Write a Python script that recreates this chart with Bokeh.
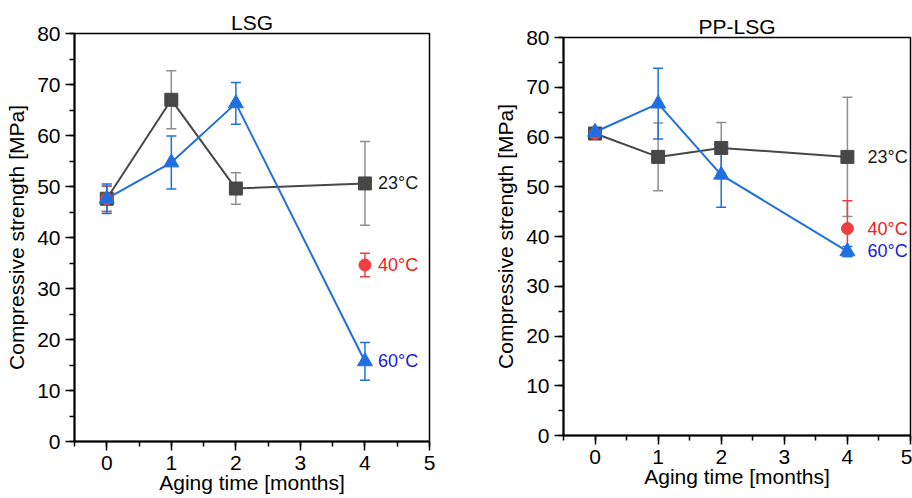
from bokeh.plotting import figure
from bokeh.models import ColumnDataSource, Whisker, TeeHead, Range1d, SingleIntervalTicker
from bokeh.layouts import row, column
from bokeh.embed import file_html
from bokeh.resources import INLINE
from bokeh.core.properties import value

# ---------------- data ----------------
months = [0, 1, 2, 4]
months_40 = [0, 4]

lsg_23 = [47.6, 67.0, 49.6, 50.6]
lsg_23_err = [2.5, 5.7, 3.1, 8.2]
lsg_40 = [47.6, 34.6]
lsg_40_err = [2.5, 2.3]
lsg_60 = [47.6, 54.7, 66.3, 15.7]
lsg_60_err = [2.9, 5.2, 4.1, 3.7]

pp_23 = [60.7, 56.0, 57.8, 56.0]
pp_23_err = [0.8, 6.8, 5.1, 12.0]
pp_40 = [60.7, 41.6]
pp_40_err = [0.8, 5.6]
pp_60 = [61.0, 66.7, 52.4, 37.0]
pp_60_err = [0.8, 7.1, 6.5, 1.0]

temp_labels = ["23°C", "40°C", "60°C"]
titles = ["LSG", "PP-LSG"]
x_label = "Aging time [months]"
y_label = "Compressive strength [MPa]"

FONT = "Liberation Sans"
GRAY = "#474747"
GRAY_ERR = "#8f8f8f"
RED = "#ef3f3f"
BLUE = "#1f6fdf"
BLUE_TXT = "#1a1ae0"


def whisker(p, xs, ys, errs, color):
    src = ColumnDataSource(dict(x=xs,
                                upper=[y + e for y, e in zip(ys, errs)],
                                lower=[y - e for y, e in zip(ys, errs)]))
    w = Whisker(source=src, base="x", upper="upper", lower="lower",
                line_color=color, line_width=1.5,
                upper_head=TeeHead(size=10, line_color=color, line_width=1.5),
                lower_head=TeeHead(size=10, line_color=color, line_width=1.5))
    p.add_layout(w)


def panel(title, s23, e23, s40, e40, s60, e60, width, mb_left, mb_right, mb_top, mb_bottom, lab_off):
    p = figure(width=width, height=498, output_backend="svg", toolbar_location=None,
               x_range=Range1d(-0.5, 5), y_range=Range1d(0, 80),
               min_border_left=mb_left, min_border_right=mb_right,
               min_border_top=mb_top, min_border_bottom=mb_bottom,
               title=title)
    p.title.text_font = FONT
    p.title.text_font_size = "21px"
    p.title.text_font_style = "normal"
    p.title.text_color = "black"
    p.title.align = "center"
    p.title.standoff = 0
    p.title.offset = 0
    p.xgrid.visible = False
    p.ygrid.visible = False
    p.outline_line_color = "black"
    p.outline_line_width = 1.5
    p.background_fill_color = "white"
    p.border_fill_color = "white"

    p.xaxis.ticker = SingleIntervalTicker(interval=1, num_minor_ticks=2)
    p.yaxis.ticker = SingleIntervalTicker(interval=10, num_minor_ticks=2)
    for ax in (p.xaxis[0], p.yaxis[0]):
        ax.axis_line_width = 2
        ax.axis_line_color = "black"
        ax.major_tick_line_width = 1.5
        ax.minor_tick_line_width = 1.5
        ax.major_tick_in = 0
        ax.major_tick_out = 9
        ax.minor_tick_in = 0
        ax.minor_tick_out = 5
        ax.major_label_text_font = FONT
        ax.major_label_text_font_size = "21px"
        ax.major_label_text_color = "black"
        ax.axis_label_text_font = FONT
        ax.axis_label_text_font_size = "21px"
        ax.axis_label_text_font_style = "normal"
        ax.axis_label_text_color = "black"
    p.xaxis.axis_label = x_label
    p.yaxis.axis_label = y_label
    p.xaxis.major_label_standoff = 5
    p.xaxis.axis_label_standoff = -2
    p.yaxis.major_label_standoff = 5
    p.yaxis.axis_label_standoff = 6

    # 23 °C
    p.line(months, s23, line_color=GRAY, line_width=2)
    whisker(p, months, s23, e23, GRAY_ERR)
    p.scatter(months, s23, marker="square", size=13, fill_color=GRAY, line_color=GRAY)
    # 40 °C
    whisker(p, months_40, s40, e40, RED)
    p.scatter(months_40, s40, marker="circle", size=12, fill_color=RED, line_color=RED)
    # 60 °C
    p.line(months, s60, line_color=BLUE, line_width=2)
    whisker(p, months, s60, e60, BLUE)
    p.scatter(months, s60, marker="triangle", size=15, fill_color=BLUE, line_color=BLUE)

    ends = [s23[-1], s40[-1], s60[-1]]
    colors = ["#1a1a1a", "#f02020", BLUE_TXT]
    src = ColumnDataSource(dict(x=[months[-1]] * 3, y=ends, t=temp_labels, c=colors))
    p.text(x="x", y="y", text="t", text_color="c", source=src, x_offset=lab_off,
           text_font=value(FONT), text_font_size="18px", text_baseline="middle", text_align="left")
    return p


p1 = panel(titles[0], lsg_23, lsg_23_err, lsg_40, lsg_40_err, lsg_60, lsg_60_err,
           460, 74, 31, 33, 57, 13)
p2 = panel(titles[1], pp_23, pp_23_err, pp_40, pp_40_err, pp_60, pp_60_err,
           452, 103, 2, 37, 63, 20)

layout = row(column(p1), column(p2))
open("out.html", "w").write(file_html(layout, INLINE))
